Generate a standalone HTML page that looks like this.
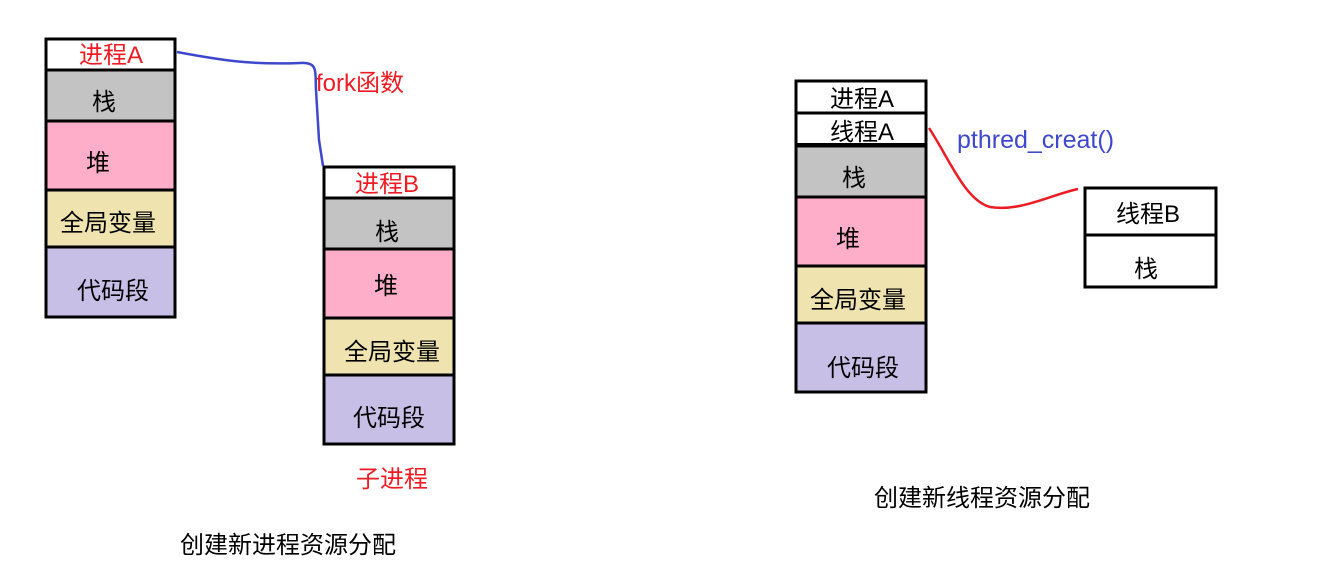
<!DOCTYPE html>
<html><head><meta charset="utf-8"><style>
html,body{margin:0;padding:0;background:#fff;}
svg text{font-family:"Liberation Sans","Noto Sans CJK SC",sans-serif;font-size:24px;}
</style></head><body>
<svg width="1323" height="572" viewBox="0 0 1323 572" xmlns="http://www.w3.org/2000/svg">
<!-- Stack A -->
<g stroke="#000" stroke-width="3">
<rect x="46" y="39" width="129" height="31" fill="#fff"/>
<rect x="46" y="70" width="129" height="51" fill="#c3c3c3"/>
<rect x="46" y="121" width="129" height="69" fill="#ffaec9"/>
<rect x="46" y="190" width="129" height="57" fill="#efe4b0"/>
<rect x="46" y="247" width="129" height="70" fill="#c8bfe7"/>
</g>
<text x="111" y="63" fill="#ed1c24" text-anchor="middle">进程A</text>
<text x="104" y="110" fill="#000" text-anchor="middle">栈</text>
<text x="98" y="171" fill="#000" text-anchor="middle">堆</text>
<text x="108" y="231" fill="#000" text-anchor="middle">全局变量</text>
<text x="113" y="299" fill="#000" text-anchor="middle">代码段</text>
<!-- Stack B -->
<g stroke="#000" stroke-width="3">
<rect x="324" y="167" width="130" height="31" fill="#fff"/>
<rect x="324" y="198" width="130" height="51" fill="#c3c3c3"/>
<rect x="324" y="249" width="130" height="69" fill="#ffaec9"/>
<rect x="324" y="318" width="130" height="57" fill="#efe4b0"/>
<rect x="324" y="375" width="130" height="69" fill="#c8bfe7"/>
</g>
<text x="387" y="192" fill="#ed1c24" text-anchor="middle">进程B</text>
<text x="387" y="240" fill="#000" text-anchor="middle">栈</text>
<text x="386" y="294" fill="#000" text-anchor="middle">堆</text>
<text x="392" y="360" fill="#000" text-anchor="middle">全局变量</text>
<text x="389" y="426" fill="#000" text-anchor="middle">代码段</text>
<path d="M177 52 C220 60 250 65 300 63 C318 62 315 70 316 90 L319 140 L323 166" fill="none" stroke="#3f48cc" stroke-width="2.5"/>
<text x="316" y="91" fill="#ed1c24">fork函数</text>
<text x="392" y="487" fill="#ed1c24" text-anchor="middle">子进程</text>
<text x="288" y="553" fill="#000" text-anchor="middle">创建新进程资源分配</text>
<!-- Right stack -->
<g stroke="#000" stroke-width="3">
<rect x="796" y="81" width="130" height="32" fill="#fff"/>
<rect x="796" y="113" width="130" height="32" fill="#fff"/>
<rect x="796" y="146" width="130" height="51" fill="#c3c3c3"/>
<rect x="796" y="197" width="130" height="69" fill="#ffaec9"/>
<rect x="796" y="266" width="130" height="57" fill="#efe4b0"/>
<rect x="796" y="323" width="130" height="69" fill="#c8bfe7"/>
</g>
<line x1="796" y1="145" x2="926" y2="145" stroke="#000" stroke-width="4"/>
<text x="862" y="107" fill="#000" text-anchor="middle">进程A</text>
<text x="862" y="140" fill="#000" text-anchor="middle">线程A</text>
<text x="854" y="186" fill="#000" text-anchor="middle">栈</text>
<text x="848" y="247" fill="#000" text-anchor="middle">堆</text>
<text x="858" y="308" fill="#000" text-anchor="middle">全局变量</text>
<text x="863" y="376" fill="#000" text-anchor="middle">代码段</text>
<path d="M929 128 C950 160 965 200 990 207 C1020 212 1050 195 1078 189" fill="none" stroke="#ed1c24" stroke-width="2.5"/>
<text x="957" y="148" fill="#3f48cc" style="font-size:25px">pthred_creat()</text>
<g stroke="#000" stroke-width="3">
<rect x="1085" y="188" width="131" height="47" fill="#fff"/>
<rect x="1085" y="235" width="131" height="52" fill="#fff"/>
</g>
<text x="1148" y="222" fill="#000" text-anchor="middle">线程B</text>
<text x="1146" y="277" fill="#000" text-anchor="middle">栈</text>
<text x="982" y="506" fill="#000" text-anchor="middle">创建新线程资源分配</text>
</svg>
</body></html>
